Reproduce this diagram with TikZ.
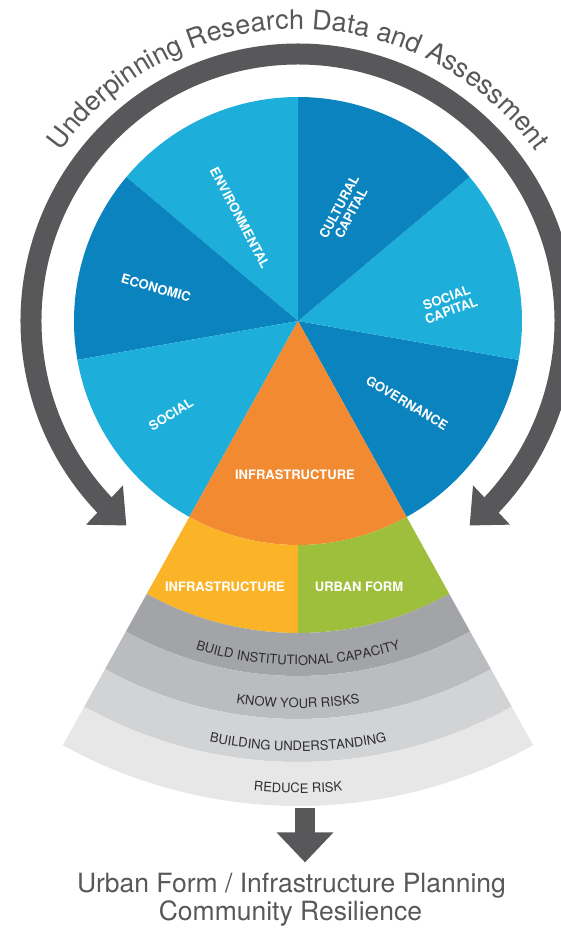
\documentclass[tikz,border=0pt]{standalone}
\usepackage{fontspec}
\setmainfont{TeX Gyre Heros}
\usetikzlibrary{arrows.meta,bending,decorations.text}

\definecolor{lightblue}{HTML}{1DAFDA}
\definecolor{darkblue}{HTML}{0A83BE}
\definecolor{infraorange}{HTML}{F28A31}
\definecolor{infrayellow}{HTML}{FBB328}
\definecolor{formgreen}{HTML}{9DBF3B}
\definecolor{ringgray}{HTML}{58585A}
\definecolor{bandone}{HTML}{A3A4A7}
\definecolor{bandtwo}{HTML}{BBBCBF}
\definecolor{bandthree}{HTML}{D2D3D5}
\definecolor{bandfour}{HTML}{E7E7E8}
\definecolor{textgray}{HTML}{2E2E30}

\newcommand\pielabel{\fontsize{13}{13.5}\selectfont\bfseries}
\newcommand\bandfont{\fontsize{13}{13}\selectfont}
\newcommand\titlefont{\fontsize{27}{27}\selectfont}

\begin{document}
\begin{tikzpicture}[x=1pt,y=1pt,
    lbl/.style={text=white,font=\pielabel,align=center,inner sep=0pt},
    ring/.style={draw=ringgray,line width=21pt,{Triangle[width=52pt,length=30pt]}-{Triangle[width=52pt,length=30pt]}},
    bigarrow/.style={draw=ringgray,line width=20pt,-{Triangle[width=55pt,length=30pt]}},
    goaltext/.style={text=ringgray,font=\fontsize{26.5}{28}\selectfont,inner sep=0pt}]
\useasboundingbox (-298,-608) rectangle (262,321);
% pie
\foreach \a/\b/\c in {299/350/darkblue,350/400/lightblue,400/450/darkblue,450/500/lightblue,500/550/darkblue,550/601/lightblue}
  \fill[\c] (0,0) -- (\a:224) arc[start angle=\a,end angle=\b,radius=224] -- cycle;
\fill[infraorange] (0,0) -- (241:224) arc[start angle=241,end angle=299,radius=224] -- cycle;
% fan
\fill[infrayellow] (241:224) arc[start angle=241,end angle=270,radius=224] -- (270:312) arc[start angle=270,end angle=241,radius=312] -- cycle;
\fill[formgreen] (270:224) arc[start angle=270,end angle=299,radius=224] -- (299:312) arc[start angle=299,end angle=270,radius=312] -- cycle;
\foreach \ri/\ro/\c in {312/355/bandone,355/398/bandtwo,398/441/bandthree,441/485/bandfour}
  \fill[\c] (241:\ri) arc[start angle=241,end angle=299,radius=\ri] -- (299:\ro) arc[start angle=299,end angle=241,radius=\ro] -- cycle;
% ring
\draw[ring] (230:267) arc[start angle=230,end angle=-50,radius=267];
\path[decorate,decoration={text along path,text align=center,text color=ringgray,
    text={|\titlefont|Underpinning Research Data and Assessment}}]
  (146:292) arc[start angle=146,end angle=34,radius=292];
% labels
\node[lbl,rotate=-62] (env) at (-58,103) {ENVIRONMENTAL};
\node[lbl,rotate=62] (cult) at (47,111) {CULTURAL\\CAPITAL};
\node[lbl,rotate=20] (soccap) at (151,17) {SOCIAL\\CAPITAL};
\node[lbl,rotate=-31] (gov) at (109,-82) {GOVERNANCE};
\node[lbl,rotate=32] (soc) at (-127,-93) {SOCIAL};
\node[lbl,rotate=-16] (econ) at (-142,33) {ECONOMIC};
\node[lbl] (infra) at (-3,-154) {INFRASTRUCTURE};
\node[lbl] (infrab) at (-73,-266) {INFRASTRUCTURE};
\node[lbl] (urban) at (61,-266) {URBAN FORM};
\path[decorate,decoration={text along path,text align=center,text color=textgray,
    text={|\bandfont|BUILD INSTITUTIONAL CAPACITY}}]
  (240:344) arc[start angle=240,end angle=300,radius=344];
\path[decorate,decoration={text along path,text align=center,text color=textgray,
    text={|\bandfont|KNOW YOUR RISKS}}]
  (240:387) arc[start angle=240,end angle=300,radius=387];
\path[decorate,decoration={text along path,text align=center,text color=textgray,
    text={|\bandfont|BUILDING UNDERSTANDING}}]
  (240:430) arc[start angle=240,end angle=300,radius=430];
\path[decorate,decoration={text along path,text align=center,text color=textgray,
    text={|\bandfont|REDUCE RISK}}]
  (240:472) arc[start angle=240,end angle=300,radius=472];
% outcome
\coordinate (fanbase) at (7,-487);
\node[goaltext,anchor=base] (goal) at (-6.5,-571) {Urban Form / Infrastructure Planning};
\node[goaltext,anchor=base] (goalsub) at (-7.5,-599) {Community Resilience};
\draw[bigarrow] (fanbase) -- ([yshift=10pt]fanbase |- goal.north);
\end{tikzpicture}
\end{document}
